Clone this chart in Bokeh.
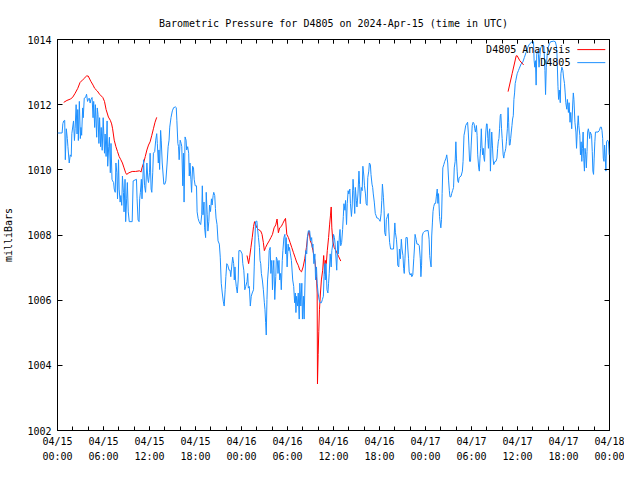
import numpy as np
import pandas as pd
from bokeh.plotting import figure
from bokeh.models import Range1d, FixedTicker, DatetimeTickFormatter, DatetimeAxis, LinearAxis, Label, Arrow
from bokeh.embed import file_html
from bokeh.resources import INLINE

START = "2024-04-15 00:00"
TITLE = "Barometric Pressure for D4805 on 2024-Apr-15 (time in UTC)"
Y_LABEL = "milliBars"
SERIES_NAMES = ["D4805 Analysis", "D4805"]
Y_TICKS = [1002, 1004, 1006, 1008, 1010, 1012, 1014]
X_SPAN_HOURS = 72
X_MAJOR_STEP = 6
X_MINOR_STEP = 2
RED = "#ff0000"
BLUE = "#1e90ff"
FONT = "DejaVu Sans Mono"

# observed series (hours after start, mbar)
blue_hours = [
    0.0, 0.6, 0.7, 0.81, 0.94, 1.02, 1.15, 1.28, 1.36, 1.53, 1.66, 1.79, 1.87, 2.09, 2.21, 2.3, 2.43, 2.55, 2.64, 2.72,
    2.85, 2.98, 3.06, 3.15, 3.28, 3.36, 3.49, 3.66, 3.79, 3.92, 4.0, 4.13, 4.26, 4.34, 4.51, 4.64, 4.72, 4.85, 4.94, 5.11,
    5.19, 5.28, 5.4, 5.49, 5.62, 5.7, 5.83, 5.96, 6.13, 6.21, 6.34, 6.47, 6.55, 6.68, 6.77, 6.89, 6.98, 7.11, 7.19, 7.32,
    7.4, 7.53, 7.62, 7.74, 7.83, 7.96, 8.04, 8.17, 8.26, 8.38, 8.47, 8.6, 8.68, 8.81, 8.89, 9.02, 9.11, 9.23, 9.36, 9.74,
    9.87, 10.3, 10.38, 10.51, 10.64, 10.72, 10.81, 10.94, 11.02, 11.15, 11.23, 11.36, 11.49, 11.66, 11.79, 11.87, 12.0, 12.08, 12.21, 12.3,
    12.42, 12.51, 12.68, 12.81, 12.94, 13.02, 13.15, 13.23, 13.32, 13.45, 13.53, 13.66, 13.79, 13.87, 14.0, 14.13, 14.3, 14.43, 14.55, 14.64,
    14.81, 14.98, 15.15, 15.4, 15.49, 15.57, 15.7, 15.79, 15.87, 16.0, 16.13, 16.21, 16.34, 16.43, 16.51, 16.64, 16.77, 16.85, 16.98, 17.11,
    17.19, 17.28, 17.4, 17.49, 17.62, 17.74, 17.83, 17.96, 18.13, 18.21, 18.34, 18.47, 18.55, 18.68, 18.81, 18.89, 18.98, 19.11, 19.19, 19.32,
    19.4, 19.53, 19.62, 19.74, 19.83, 19.96, 20.08, 20.17, 20.3, 20.38, 20.51, 20.6, 20.68, 20.81, 20.94, 21.11, 21.23, 21.36, 21.49, 21.62,
    21.74, 21.87, 21.96, 22.08, 22.21, 22.38, 22.51, 22.6, 22.72, 22.85, 22.98, 23.06, 23.15, 23.23, 23.32, 23.45, 23.57, 23.66, 23.87, 24.08,
    24.17, 24.3, 24.38, 24.43, 24.55, 24.72, 24.81, 24.89, 25.02, 25.15, 25.27, 25.4, 25.57, 25.66, 25.74, 25.83, 26.0, 26.08, 26.21, 26.34,
    26.42, 26.51, 26.59, 26.72, 26.85, 26.98, 27.06, 27.15, 27.23, 27.32, 27.4, 27.53, 27.61, 27.74, 27.83, 27.95, 28.04, 28.12, 28.21, 28.34,
    28.47, 28.55, 28.68, 28.76, 28.89, 28.98, 29.1, 29.19, 29.32, 29.4, 29.53, 29.66, 29.74, 29.83, 29.95, 30.08, 30.17, 30.25, 30.38, 30.51,
    30.68, 30.81, 30.93, 31.02, 31.1, 31.19, 31.32, 31.4, 31.53, 31.61, 31.74, 31.87, 31.95, 32.08, 32.17, 32.29, 32.38, 32.51, 32.59, 32.72,
    32.89, 33.02, 33.15, 33.23, 33.32, 33.44, 33.57, 33.66, 33.78, 33.87, 33.99, 34.12, 34.25, 34.42, 34.55, 34.68, 34.76, 34.85, 34.93, 35.02,
    35.15, 35.27, 35.36, 35.44, 35.57, 35.7, 35.78, 35.91, 36.0, 36.12, 36.21, 36.29, 36.42, 36.55, 36.63, 36.77, 36.85, 36.94, 37.06, 37.19,
    37.28, 37.36, 37.49, 37.57, 37.7, 37.79, 37.91, 38.0, 38.13, 38.21, 38.34, 38.43, 38.55, 38.64, 38.77, 38.85, 38.98, 39.06, 39.19, 39.32,
    39.4, 39.49, 39.62, 39.74, 39.83, 39.96, 40.04, 40.17, 40.26, 40.38, 40.47, 40.6, 40.68, 40.81, 40.89, 41.02, 41.11, 41.19, 41.32, 41.45,
    41.53, 41.66, 41.79, 41.96, 42.08, 42.21, 42.3, 42.38, 42.51, 42.6, 42.68, 42.81, 42.89, 43.02, 43.15, 43.23, 43.32, 43.45, 43.83, 43.91,
    44.0, 44.08, 44.21, 44.3, 44.38, 44.51, 44.6, 44.72, 44.85, 44.94, 45.06, 45.15, 45.23, 45.32, 45.45, 45.62, 45.7, 45.79, 45.87, 46.0,
    46.13, 46.21, 46.34, 46.47, 46.55, 46.64, 46.77, 46.89, 47.06, 47.19, 47.32, 47.4, 47.49, 47.57, 47.7, 47.91, 48.34, 48.47, 48.55, 48.64,
    48.73, 48.81, 48.9, 48.98, 49.07, 49.19, 49.32, 49.41, 49.53, 49.62, 49.7, 49.83, 49.92, 50.0, 50.09, 50.17, 50.26, 50.39, 50.51, 50.68,
    50.77, 50.9, 51.02, 51.11, 51.19, 51.32, 51.41, 51.53, 51.66, 51.75, 51.87, 51.96, 52.04, 52.13, 52.21, 52.3, 52.38, 52.64, 52.81, 52.9,
    53.02, 53.11, 53.24, 53.36, 53.49, 53.58, 53.66, 53.75, 53.87, 53.96, 54.09, 54.21, 54.34, 54.43, 54.51, 54.64, 54.73, 54.81, 54.94, 55.02,
    55.11, 55.19, 55.28, 55.36, 55.45, 55.53, 55.62, 55.7, 55.79, 55.87, 55.96, 56.04, 56.13, 56.21, 56.3, 56.38, 56.47, 56.55, 56.64, 56.73,
    56.81, 56.9, 57.07, 57.19, 57.32, 57.41, 57.49, 57.58, 57.66, 57.75, 57.83, 57.92, 58.0, 58.13, 58.21, 58.3, 58.38, 58.47, 58.55, 58.68,
    58.77, 58.85, 58.94, 59.02, 59.11, 59.19, 59.28, 59.36, 59.45, 59.53, 59.62, 59.7, 59.79, 59.87, 59.96, 60.04, 60.13, 60.21, 60.47, 60.68,
    60.9, 61.11, 61.32, 61.53, 61.75, 62.0, 62.09, 62.17, 62.26, 62.34, 62.43, 62.51, 62.6, 62.73, 62.81, 62.94, 63.02, 63.24, 63.45, 63.58,
    63.66, 63.75, 63.88, 64.0, 64.17, 64.3, 64.73, 64.94, 65.07, 65.15, 65.28, 65.36, 65.45, 65.58, 65.66, 65.79, 65.92, 66.0, 66.13, 66.22,
    66.3, 66.43, 66.51, 66.64, 66.73, 66.85, 66.94, 67.07, 67.19, 67.28, 67.36, 67.49, 67.62, 67.7, 67.79, 67.92, 68.0, 68.13, 68.21, 68.3,
    68.39, 68.47, 68.56, 68.64, 68.73, 68.81, 68.9, 68.98, 69.07, 69.15, 69.24, 69.32, 69.41, 69.49, 69.66, 69.75, 69.83, 69.92, 70.0, 70.09,
    70.17, 70.51, 70.68, 70.81, 70.94, 71.02, 71.11, 71.19, 71.28, 71.36, 71.45, 71.53, 71.62, 71.75, 71.87, 71.96,
]
blue_mbar = [
    1011.13, 1011.13, 1011.42, 1011.5, 1011.52, 1010.31, 1011.26, 1010.96, 1010.71, 1010.21, 1010.46, 1010.41, 1011.11, 1011.5, 1010.9, 1011.26, 1012.0, 1011.1, 1011.85, 1010.9,
    1012.1, 1010.96, 1011.3, 1011.06, 1011.9, 1011.6, 1012.2, 1012.22, 1012.32, 1012.1, 1012.15, 1012.2, 1012.05, 1012.15, 1012.22, 1011.6, 1012.1, 1011.3, 1012.0, 1011.0,
    1011.9, 1011.7, 1010.81, 1011.6, 1010.71, 1011.3, 1010.6, 1011.6, 1010.51, 1011.1, 1010.41, 1011.5, 1010.11, 1010.71, 1011.0, 1009.91, 1010.81, 1009.71, 1009.66, 1009.61,
    1009.41, 1009.31, 1010.21, 1009.91, 1009.11, 1010.31, 1009.41, 1009.01, 1009.21, 1008.91, 1009.81, 1009.31, 1008.71, 1009.71, 1008.41, 1009.11, 1009.61, 1008.71, 1008.41, 1008.41,
    1009.66, 1009.71, 1009.11, 1008.46, 1008.41, 1009.11, 1009.31, 1009.71, 1009.11, 1009.81, 1010.31, 1009.51, 1009.31, 1010.21, 1009.71, 1009.61, 1009.91, 1010.51, 1009.41, 1009.31,
    1009.91, 1010.51, 1010.56, 1010.91, 1011.11, 1010.81, 1010.21, 1010.61, 1010.01, 1011.21, 1010.91, 1010.21, 1009.81, 1009.56, 1009.56, 1009.66, 1010.21, 1010.71, 1010.91, 1011.31,
    1011.61, 1011.81, 1011.91, 1011.93, 1011.91, 1011.51, 1010.81, 1010.71, 1010.31, 1010.91, 1010.81, 1010.71, 1009.51, 1010.51, 1009.01, 1011.01, 1010.91, 1010.61, 1010.71, 1010.51,
    1009.81, 1010.21, 1009.71, 1009.31, 1010.11, 1010.06, 1009.71, 1009.51, 1009.51, 1008.71, 1008.51, 1008.41, 1008.37, 1008.32, 1008.62, 1009.51, 1008.62, 1009.01, 1008.22, 1007.92,
    1009.31, 1008.62, 1008.12, 1008.42, 1008.92, 1008.72, 1009.11, 1008.92, 1009.21, 1009.31, 1009.21, 1008.81, 1008.52, 1008.32, 1007.82, 1007.72, 1007.32, 1006.52, 1006.22, 1005.97,
    1005.82, 1006.32, 1006.72, 1007.12, 1007.07, 1006.92, 1006.92, 1006.72, 1007.02, 1007.32, 1007.12, 1006.62, 1007.02, 1006.62, 1006.42, 1006.22, 1006.62, 1007.52, 1007.52, 1007.42,
    1007.12, 1006.92, 1006.62, 1006.32, 1006.42, 1006.57, 1006.82, 1006.37, 1006.42, 1005.82, 1006.12, 1006.22, 1006.32, 1007.02, 1007.72, 1008.41, 1008.43, 1008.22, 1007.92, 1007.62,
    1007.22, 1007.12, 1006.82, 1006.62, 1006.32, 1005.92, 1005.72, 1005.32, 1004.93, 1006.02, 1006.62, 1007.02, 1007.52, 1007.62, 1006.82, 1007.22, 1006.32, 1006.92, 1007.22, 1006.02,
    1006.72, 1007.32, 1007.22, 1006.82, 1007.22, 1006.62, 1006.82, 1006.32, 1007.22, 1007.52, 1007.92, 1008.02, 1007.42, 1007.92, 1007.02, 1007.72, 1007.52, 1007.62, 1007.42, 1007.22,
    1006.62, 1006.42, 1005.92, 1006.22, 1005.62, 1006.12, 1005.82, 1006.22, 1005.42, 1006.52, 1005.82, 1006.52, 1005.42, 1006.12, 1005.42, 1006.62, 1007.52, 1007.42, 1007.92, 1008.13,
    1008.13, 1007.82, 1007.92, 1007.62, 1007.72, 1007.12, 1007.42, 1006.62, 1007.02, 1006.52, 1006.22, 1006.02, 1005.92, 1005.92, 1006.02, 1006.12, 1006.72, 1007.12, 1006.62, 1007.12,
    1006.32, 1006.22, 1006.52, 1006.82, 1007.42, 1007.02, 1007.52, 1007.72, 1008.02, 1007.92, 1007.72, 1007.42, 1006.92, 1007.82, 1007.42, 1007.97, 1008.17, 1007.67, 1007.77, 1008.17,
    1008.57, 1008.96, 1008.76, 1009.06, 1008.32, 1008.96, 1009.36, 1009.26, 1009.41, 1008.96, 1008.57, 1008.86, 1009.71, 1009.36, 1008.66, 1009.46, 1009.06, 1008.86, 1009.26, 1009.96,
    1009.56, 1008.96, 1009.46, 1009.36, 1010.11, 1009.81, 1009.51, 1009.26, 1008.96, 1008.91, 1009.76, 1009.96, 1010.21, 1010.16, 1009.86, 1009.56, 1009.46, 1009.26, 1009.01, 1008.66,
    1008.61, 1008.52, 1008.52, 1008.47, 1008.42, 1008.66, 1009.06, 1009.56, 1009.16, 1008.76, 1008.07, 1007.97, 1008.47, 1008.57, 1008.66, 1008.12, 1007.77, 1007.57, 1007.57, 1007.97,
    1008.37, 1008.07, 1007.87, 1007.57, 1007.07, 1007.02, 1007.57, 1007.27, 1007.87, 1007.57, 1007.37, 1006.97, 1006.82, 1007.27, 1007.92, 1007.92, 1007.57, 1007.27, 1006.87, 1006.77,
    1006.82, 1006.72, 1006.77, 1007.27, 1007.57, 1008.02, 1007.87, 1007.72, 1007.72, 1007.67, 1007.27, 1006.72, 1007.07, 1007.97, 1008.07, 1008.12, 1008.14, 1007.87, 1007.37, 1007.17,
    1007.02, 1007.97, 1008.37, 1008.72, 1008.87, 1008.97, 1008.97, 1009.17, 1009.41, 1008.97, 1009.27, 1008.57, 1008.37, 1008.22, 1008.47, 1009.27, 1010.06, 1010.16, 1010.26, 1010.36,
    1010.46, 1010.21, 1009.66, 1009.36, 1009.17, 1009.17, 1009.27, 1009.36, 1009.46, 1010.06, 1010.26, 1010.86, 1010.36, 1009.96, 1009.66, 1009.61, 1009.76, 1009.81, 1009.96, 1010.26,
    1011.06, 1011.16, 1011.36, 1011.41, 1011.46, 1011.16, 1010.76, 1010.26, 1010.26, 1010.76, 1011.36, 1011.46, 1011.41, 1011.26, 1011.16, 1011.36, 1011.06, 1010.46, 1010.06, 1009.96,
    1010.36, 1010.66, 1011.26, 1010.76, 1010.46, 1010.66, 1010.36, 1010.26, 1010.76, 1011.16, 1011.41, 1011.41, 1010.96, 1010.66, 1011.16, 1011.26, 1009.96, 1010.66, 1011.16, 1010.76,
    1010.36, 1010.16, 1010.26, 1010.26, 1010.36, 1010.66, 1010.86, 1010.96, 1011.26, 1011.66, 1011.71, 1011.26, 1010.96, 1010.46, 1010.36, 1010.51, 1010.56, 1010.66, 1010.86, 1011.26,
    1011.91, 1011.46, 1010.76, 1010.76, 1010.96, 1011.16, 1011.36, 1011.56, 1011.66, 1012.16, 1012.36, 1012.65, 1012.75, 1012.85, 1012.95, 1013.0, 1013.05, 1013.1, 1013.25, 1013.3,
    1013.45, 1013.6, 1013.75, 1013.85, 1013.9, 1013.95, 1013.93, 1013.35, 1013.15, 1013.35, 1012.6, 1013.55, 1013.65, 1013.55, 1013.15, 1013.55, 1013.75, 1013.8, 1013.8, 1013.05,
    1012.31, 1013.15, 1013.55, 1013.75, 1013.87, 1013.93, 1013.95, 1013.93, 1013.8, 1013.55, 1012.55, 1012.16, 1012.45, 1012.06, 1012.95, 1013.15, 1013.05, 1012.85, 1012.65, 1012.36,
    1012.06, 1011.86, 1012.16, 1011.76, 1012.06, 1011.46, 1011.76, 1011.26, 1011.96, 1012.36, 1012.16, 1011.46, 1011.16, 1010.66, 1011.16, 1011.66, 1011.36, 1011.06, 1010.46, 1010.86,
    1010.26, 1010.66, 1011.16, 1010.36, 1009.96, 1010.66, 1010.46, 1010.06, 1010.56, 1011.16, 1011.26, 1011.16, 1010.96, 1011.16, 1011.06, 1010.56, 1009.96, 1009.86, 1010.36, 1010.86,
    1011.16, 1011.16, 1011.21, 1011.31, 1011.31, 1011.21, 1010.96, 1010.36, 1010.26, 1010.76, 1010.36, 1009.96, 1010.86, 1010.91, 1010.86, 1010.46,
]

# analysis series, three separate runs (hours after start, mbar)
red1_hours = [0.81, 1.23, 1.66, 1.96, 2.3, 2.64, 2.94, 3.36, 3.79, 4.0, 4.34, 4.64, 4.85, 5.19, 5.49, 5.91, 6.13, 6.34,
              6.64, 6.89, 7.06, 7.19, 7.4, 7.62, 7.83, 8.04, 8.26, 8.47, 8.68, 8.89, 9.02, 9.32, 9.74, 10.17, 10.72, 10.89,
              11.02, 11.23, 11.45, 11.66, 11.87, 12.08, 12.3, 12.51, 12.72, 12.94]
red1_mbar = [1012.07, 1012.13, 1012.17, 1012.22, 1012.35, 1012.5, 1012.68, 1012.78, 1012.88, 1012.88, 1012.72, 1012.6,
             1012.5, 1012.42, 1012.32, 1012.22, 1012.1, 1011.85, 1011.62, 1011.52, 1011.41, 1011.26, 1010.91, 1010.71,
             1010.56, 1010.41, 1010.31, 1010.21, 1010.06, 1009.91, 1009.86, 1009.91, 1009.95, 1009.95, 1009.97, 1009.93,
             1010.06, 1010.21, 1010.41, 1010.61, 1010.76, 1010.86, 1011.06, 1011.26, 1011.46, 1011.61]
red2_hours = [24.72, 24.93, 25.06, 25.23, 25.4, 25.57, 25.7, 25.87, 26.0, 26.21, 26.51, 26.68, 26.85, 26.98, 27.15, 27.36,
              27.61, 27.83, 28.04, 28.25, 28.47, 28.64, 28.81, 28.98, 29.19, 29.4, 29.61, 29.74, 29.91, 30.12, 30.34, 30.55,
              30.76, 30.98, 31.19, 31.4, 31.61, 31.83, 32.04, 32.25, 32.47, 32.64, 32.81, 32.98, 33.15, 33.32, 33.57, 33.78,
              33.87, 33.91, 34.0, 34.08, 34.17, 34.3, 34.42, 34.59, 34.72, 34.85, 34.93, 35.06, 35.19, 35.36, 35.49, 35.61,
              35.7, 35.78, 35.91, 36.08, 36.25, 36.45, 36.65, 36.95]
red2_mbar = [1007.37, 1007.12, 1007.32, 1007.62, 1007.92, 1008.26, 1008.41, 1008.31, 1008.22, 1008.17, 1008.12, 1008.02,
             1007.77, 1007.52, 1007.62, 1007.72, 1007.82, 1007.92, 1008.02, 1008.22, 1008.31, 1008.49, 1008.07, 1008.22,
             1008.26, 1008.36, 1008.46, 1008.51, 1008.02, 1007.92, 1007.77, 1007.62, 1007.47, 1007.32, 1007.17, 1007.07,
             1006.92, 1006.87, 1007.02, 1007.27, 1007.62, 1007.97, 1008.12, 1007.82, 1007.72, 1007.52, 1007.22, 1006.72,
             1006.22, 1003.43, 1004.33, 1005.03, 1005.72, 1006.22, 1006.62, 1006.92, 1007.37, 1006.82, 1007.22, 1007.12,
             1007.52, 1007.92, 1008.31, 1008.61, 1008.86, 1008.22, 1007.82, 1007.62, 1007.55, 1007.45, 1007.35, 1007.2]
red3_hours = [58.77, 59.3, 59.83, 59.96, 60.3, 60.8]
red3_mbar = [1012.4, 1012.95, 1013.5, 1013.5, 1013.35, 1013.22]

# key placement, in axis units (hours after start, mbar)
KEY_TEXT_RIGHT_H = 66.9
KEY_LINE_H = (67.8, 71.45)
KEY_ROWS_MBAR = [1013.69, 1013.29]

T0_MS = pd.Timestamp(START).value / 1e6
H_MS = 3600000.0


def to_ms(hours):
    return T0_MS + np.asarray(hours, dtype=float) * H_MS


W, H = 624, 464
p = figure(width=W, height=H, x_axis_type="datetime",
           x_range=Range1d(T0_MS, T0_MS + X_SPAN_HOURS * H_MS),
           y_range=Range1d(Y_TICKS[0], Y_TICKS[-1]),
           output_backend="svg", toolbar_location=None,
           min_border_left=57, min_border_right=15, min_border_top=39, min_border_bottom=31)
p.background_fill_color = "white"
p.border_fill_color = "white"
p.outline_line_color = "black"
p.outline_line_width = 1
p.xgrid.visible = False
p.ygrid.visible = False

major_x = [T0_MS + h * H_MS for h in range(0, X_SPAN_HOURS + 1, X_MAJOR_STEP)]
minor_x = [T0_MS + h * H_MS for h in range(0, X_SPAN_HOURS + 1, X_MINOR_STEP)]
fmt = "%m/%d\n%H:%M"
fkw = dict(microseconds=fmt, milliseconds=fmt, seconds=fmt, minsec=fmt, minutes=fmt,
           hourmin=fmt, hours=fmt, days=fmt, months=fmt, years=fmt)
if "strip_leading_zeros" in DatetimeTickFormatter.properties():
    fkw["strip_leading_zeros"] = False
formatter = DatetimeTickFormatter(**fkw)

xa = p.xaxis[0]
xa.ticker = FixedTicker(ticks=major_x, minor_ticks=minor_x)
xa.formatter = formatter
ya = p.yaxis[0]
ya.ticker = FixedTicker(ticks=Y_TICKS, minor_ticks=[])
ya.axis_label = Y_LABEL

for ax in (xa, ya):
    ax.axis_line_color = None
    ax.major_tick_in = 5
    ax.major_tick_out = 0
    ax.minor_tick_in = 4
    ax.minor_tick_out = 0
    ax.major_tick_line_color = "black"
    ax.minor_tick_line_color = "black"
    ax.major_label_text_font = FONT
    ax.major_label_text_font_size = "10px"
    ax.major_label_text_color = "black"
    ax.axis_label_text_font = FONT
    ax.axis_label_text_font_size = "10px"
    ax.axis_label_text_font_style = "normal"
    ax.axis_label_text_color = "black"
xa.major_tick_in = 4
xa.major_label_standoff = 5
xa.major_label_text_line_height = 1.4
ya.major_label_standoff = 6
ya.axis_label_standoff = 10

# mirrored tick marks on the top and right edges (no labels)
top = DatetimeAxis(ticker=FixedTicker(ticks=major_x, minor_ticks=minor_x), formatter=formatter,
                   axis_line_color=None, major_tick_in=4, major_tick_out=0, minor_tick_in=4, minor_tick_out=0,
                   major_label_text_font_size="0px", major_label_text_color=None, major_label_standoff=0)
right = LinearAxis(ticker=FixedTicker(ticks=Y_TICKS, minor_ticks=[]),
                   axis_line_color=None, major_tick_in=5, major_tick_out=0, minor_tick_in=0, minor_tick_out=0,
                   major_label_text_font_size="0px", major_label_text_color=None, major_label_standoff=0)
p.add_layout(top, "above")
p.add_layout(right, "right")

p.title.text = TITLE
p.title.align = "center"
p.title.text_font = FONT
p.title.text_font_size = "10px"
p.title.text_font_style = "normal"
p.title.text_color = "black"
p.title.standoff = 22

p.line(to_ms(red1_hours), red1_mbar, line_color=RED, line_width=1)
p.line(to_ms(red2_hours), red2_mbar, line_color=RED, line_width=1)
p.line(to_ms(red3_hours), red3_mbar, line_color=RED, line_width=1)
p.line(to_ms(blue_hours), blue_mbar, line_color=BLUE, line_width=1)

# key: text on the left, sample line on the right (gnuplot style)
for name, col, ky in zip(SERIES_NAMES, [RED, BLUE], KEY_ROWS_MBAR):
    p.add_layout(Label(x=float(to_ms(KEY_TEXT_RIGHT_H)), y=ky, text=name,
                       text_align="right", text_baseline="middle", text_font=FONT,
                       text_font_size="10px", text_color="black"))
    p.add_layout(Arrow(end=None, x_start=float(to_ms(KEY_LINE_H[0])), y_start=ky,
                       x_end=float(to_ms(KEY_LINE_H[1])), y_end=ky,
                       line_color=col, line_width=1))

open("out.html", "w").write(file_html(p, INLINE))
